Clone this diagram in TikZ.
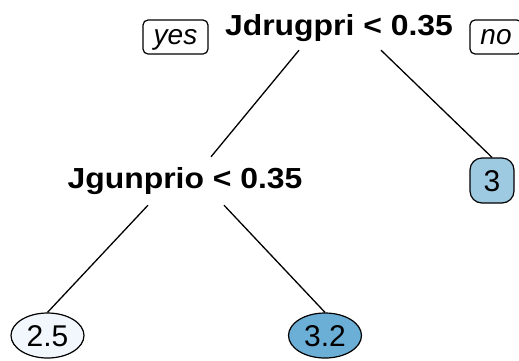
\documentclass[tikz,border=0pt]{standalone}
\usepackage{fontspec}
\setmainfont{Liberation Sans}
\newfontfamily\splitfont[FakeStretch=1.1]{Liberation Sans}
\usetikzlibrary{shapes.geometric}
\definecolor{leafA}{HTML}{F1F7FD}
\definecolor{leafB}{HTML}{6BAED6}
\definecolor{leafC}{HTML}{9ECAE1}
\tikzset{
  splitlabel/.style={inner xsep=0pt, font=\splitfont\fontsize{29}{31}\selectfont\bfseries, text height=20pt, text depth=6pt, anchor=base},
  dirbox/.style={draw, line width=1.2pt, rounded corners=5pt, minimum height=34pt, inner sep=0pt, font=\fontsize{28}{30}\selectfont\itshape, text height=14.5pt, text depth=0pt},
  leafell/.style={draw, line width=1.2pt, ellipse, inner sep=0pt, minimum width=73pt, minimum height=45pt, font=\fontsize{30}{32}\selectfont, text height=21.5pt, text depth=0pt},
  leafbox/.style={draw, line width=1.2pt, rounded corners=12pt, inner sep=0pt, minimum width=44pt, minimum height=45pt, font=\fontsize{30}{32}\selectfont, text height=21.5pt, text depth=0pt},
  edge/.style={line width=1.3pt}
}
\begin{document}
\begin{tikzpicture}[x=1pt, y=-1pt]
\clip (0,0) rectangle (519,360);
\useasboundingbox (0,0) rectangle (519,360);
\fill[white] (0,0) rectangle (519,360);
\node[splitlabel, inner ysep=9pt] (root) at (339,35) {Jdrugpri < 0.35};
\node[splitlabel, inner ysep=11pt] (gun) at (185,188) {Jgunprio < 0.35};
\node[dirbox, minimum width=65pt] (yes) at (175.5,37) {yes};
\node[dirbox, minimum width=52pt] (no) at (496,37) {no};
\node[leafbox, fill=leafC] (l3) at (492,180.5) {3};
\node[leafell, fill=leafA] (l25) at (47.5,335.5) {2.5};
\node[leafell, fill=leafB] (l32) at (325,335.5) {3.2};
\draw[edge] ([xshift=-40pt]root.south) -- ([xshift=26pt]gun.north);
\draw[edge] ([xshift=42pt]root.south) -- (l3.north);
\draw[edge] ([xshift=-37pt]gun.south) -- (l25.north);
\draw[edge] ([xshift=39pt]gun.south) -- (l32.north);
\end{tikzpicture}
\end{document}
